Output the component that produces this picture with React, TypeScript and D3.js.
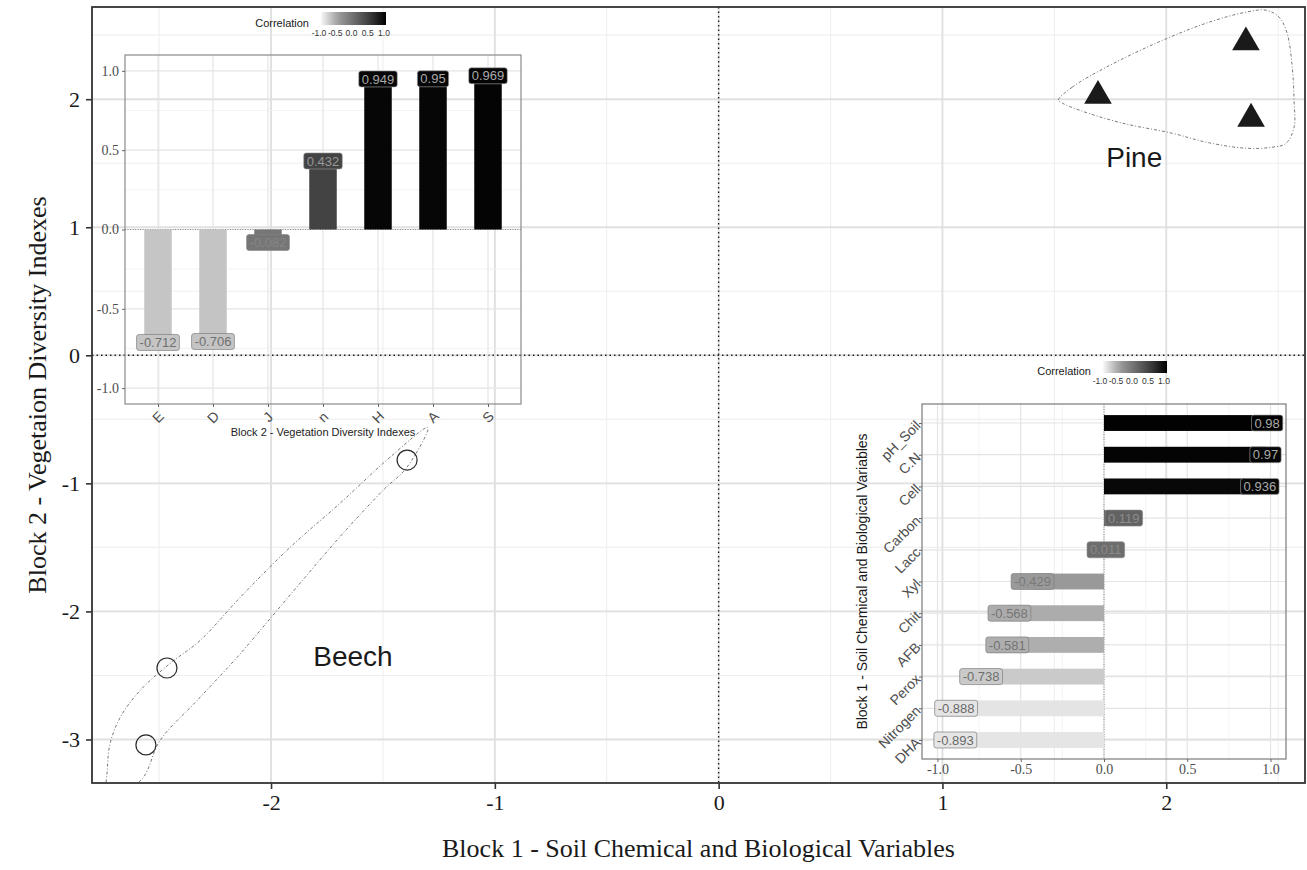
import React, { useEffect, useRef } from 'react';
import * as d3 from 'd3';

const W = 1307;
const H = 870;

// sample scores on the first pair of components
const beechX = [-1.392, -2.465, -2.559];
const beechY = [-0.818, -2.442, -3.043];
const pineX = [2.356, 1.695, 2.379];
const pineY = [2.444, 2.026, 1.847];

// outlines of the group ellipses
const beechHull: [number, number][] = [
  [-1.299, -0.563], [-1.469, -0.797], [-1.692, -1.156], [-1.915, -1.5], [-2.138, -1.891],
  [-2.317, -2.227], [-2.451, -2.406], [-2.585, -2.617], [-2.674, -2.828], [-2.719, -3.031],
  [-2.732, -3.242], [-2.737, -3.477], [-2.71, -3.55], [-2.692, -3.477], [-2.571, -3.297],
  [-2.496, -3.008], [-2.33, -2.695], [-2.152, -2.359], [-1.973, -1.992], [-1.795, -1.625],
  [-1.679, -1.391], [-1.5, -1.055], [-1.393, -0.875],
];
const pineHull: [number, number][] = [
  [1.518, 1.992], [1.58, 2.094], [1.732, 2.25], [1.955, 2.438], [2.179, 2.594],
  [2.357, 2.68], [2.446, 2.695], [2.504, 2.641], [2.54, 2.516], [2.563, 2.25],
  [2.571, 1.992], [2.571, 1.781], [2.536, 1.656], [2.473, 1.625], [2.357, 1.617],
  [2.179, 1.664], [2.027, 1.734], [1.804, 1.813], [1.612, 1.914], [1.536, 1.969],
];

const groupNames = ['Pine', 'Beech'];
const groupLabelX = [1.857, -1.634];
const groupLabelY = [1.547, -2.344];

const mainXTicks = [-2, -1, 0, 1, 2];
const mainYTicks = [-3, -2, -1, 0, 1, 2];

// correlations with the components
const block2Vars = ['E', 'D', 'J', 'n', 'H', 'A', 'S'];
const block2Cor = [-0.712, -0.706, -0.082, 0.432, 0.949, 0.95, 0.969];

const block1Vars = ['pH_Soil', 'C.N', 'Cell', 'Carbon', 'Lacc', 'Xyl', 'Chit', 'AFB', 'Perox', 'Nitrogen', 'DHA'];
const block1Cor = [0.98, 0.97, 0.936, 0.119, 0.011, -0.429, -0.568, -0.581, -0.738, -0.888, -0.893];

const corTicks = [-1, -0.5, 0, 0.5, 1];
const corMinor = [-0.75, -0.25, 0.25, 0.75];

const SANS = '"Liberation Sans", Arial, sans-serif';
const SERIF = '"Liberation Serif", "Times New Roman", serif';

const fillScale = d3.scaleLinear<string>()
  .domain([-1, -0.5, 0, 0.5, 1])
  .range(['#f8f8f8', '#a0a0a0', '#6e6e6e', '#3c3c3c', '#000000'])
  .clamp(true);
const textScale = d3.scaleLinear<string>().domain([-1, 1]).range(['#666666', '#aaaaaa']);

const fmt1 = (d: any) => (+d).toFixed(1);

const App = () => {
  const ref = useRef<SVGSVGElement>(null);

  useEffect(() => {
    const svg = d3.select(ref.current);
    svg.selectAll('*').remove();

    svg.append('rect').attr('width', W).attr('height', H).attr('fill', '#fff');

    const m = { left: 92, right: 1305, top: 7, bottom: 783 };
    const x = d3.scaleLinear().domain([-2.8, 2.62]).range([m.left, m.right]);
    const y = d3.scaleLinear().domain([-3.34, 2.72]).range([m.bottom, m.top]);

    const defs = svg.append('defs');
    defs.append('clipPath').attr('id', 'panel')
      .append('rect')
      .attr('x', m.left).attr('y', m.top)
      .attr('width', m.right - m.left).attr('height', m.bottom - m.top);

    const grad = defs.append('linearGradient').attr('id', 'corgrad');
    d3.range(0, 1.01, 0.1).forEach(t => {
      grad.append('stop').attr('offset', t).attr('stop-color', fillScale(-1 + 2 * t));
    });

    // main grid
    const grid = svg.append('g');
    const xMinor = [-2.5, -1.5, -0.5, 0.5, 1.5, 2.5];
    const yMinor = [-2.5, -1.5, -0.5, 0.5, 1.5, 2.5];
    grid.selectAll('.xmin').data(xMinor).enter().append('line')
      .attr('x1', d => x(d)).attr('x2', d => x(d)).attr('y1', m.top).attr('y2', m.bottom)
      .attr('stroke', '#efefef').attr('stroke-width', 1.1);
    grid.selectAll('.ymin').data(yMinor).enter().append('line')
      .attr('y1', d => y(d)).attr('y2', d => y(d)).attr('x1', m.left).attr('x2', m.right)
      .attr('stroke', '#efefef').attr('stroke-width', 1.1);
    grid.selectAll('.xmaj').data(mainXTicks).enter().append('line')
      .attr('x1', d => x(d)).attr('x2', d => x(d)).attr('y1', m.top).attr('y2', m.bottom)
      .attr('stroke', '#e0e0e0').attr('stroke-width', 1.9);
    grid.selectAll('.ymaj').data(mainYTicks).enter().append('line')
      .attr('y1', d => y(d)).attr('y2', d => y(d)).attr('x1', m.left).attr('x2', m.right)
      .attr('stroke', '#e0e0e0').attr('stroke-width', 1.9);

    // zero reference lines
    svg.append('line')
      .attr('x1', x(0)).attr('x2', x(0)).attr('y1', m.top).attr('y2', m.bottom)
      .attr('stroke', '#222').attr('stroke-width', 1.4).attr('stroke-dasharray', '1.5,3');
    svg.append('line')
      .attr('y1', y(0)).attr('y2', y(0)).attr('x1', m.left).attr('x2', m.right)
      .attr('stroke', '#222').attr('stroke-width', 1.4).attr('stroke-dasharray', '1.5,3');

    // ellipses
    const hullLine = d3.line<[number, number]>()
      .x(d => x(d[0])).y(d => y(d[1]))
      .curve(d3.curveCatmullRomClosed.alpha(0.5));
    const hulls = svg.append('g').attr('clip-path', 'url(#panel)');
    [beechHull, pineHull].forEach(h => {
      hulls.append('path').attr('d', hullLine(h))
        .attr('fill', 'none').attr('stroke', '#7a7a7a').attr('stroke-width', 1)
        .attr('stroke-dasharray', '3,2,1,2');
    });

    // points
    svg.append('g').selectAll('circle').data(beechX).enter().append('circle')
      .attr('cx', d => x(d)).attr('cy', (d, i) => y(beechY[i])).attr('r', 10)
      .attr('fill', 'none').attr('stroke', '#2a2a2a').attr('stroke-width', 1.2);
    const tri = d3.symbol().type(d3.symbolTriangle).size(330);
    svg.append('g').selectAll('path').data(pineX).enter().append('path')
      .attr('d', tri())
      .attr('transform', (d, i) => `translate(${x(d)},${y(pineY[i])})`)
      .attr('fill', '#1a1a1a');

    svg.append('g').selectAll('text').data(groupNames).enter().append('text')
      .attr('x', (d, i) => x(groupLabelX[i])).attr('y', (d, i) => y(groupLabelY[i]))
      .attr('dy', '0.36em').attr('text-anchor', 'middle')
      .attr('font-family', SANS).attr('font-size', 28).attr('fill', '#1a1a1a')
      .text(d => d);

    // main axes
    const xAxis = svg.append('g').attr('transform', `translate(0,${m.bottom})`)
      .call(d3.axisBottom(x).tickValues(mainXTicks).tickSize(6).tickPadding(5).tickFormat(d => String(d)));
    const yAxis = svg.append('g').attr('transform', `translate(${m.left},0)`)
      .call(d3.axisLeft(y).tickValues(mainYTicks).tickSize(6).tickPadding(6).tickFormat(d => String(d)));
    [xAxis, yAxis].forEach(a => {
      a.select('.domain').remove();
      a.selectAll('line').attr('stroke', '#333').attr('stroke-width', 1.6);
      a.selectAll('text').attr('font-family', SERIF).attr('font-size', 22).attr('fill', '#1a1a1a');
    });

    svg.append('text')
      .attr('x', (m.left + m.right) / 2).attr('y', 857)
      .attr('text-anchor', 'middle').attr('font-family', SERIF).attr('font-size', 26).attr('fill', '#1a1a1a')
      .text('Block 1 - Soil Chemical and Biological Variables');
    svg.append('text')
      .attr('transform', `translate(46,${(m.top + m.bottom) / 2}) rotate(-90)`)
      .attr('text-anchor', 'middle').attr('font-family', SERIF).attr('font-size', 26).attr('fill', '#1a1a1a')
      .text('Block 2 - Vegetaion Diversity Indexes');

    // helpers for the insets
    const addLabel = (g: any, cx: number, cy: number, v: number, fs: number) => {
      const lg = g.append('g');
      const r = lg.append('rect');
      const t = lg.append('text')
        .attr('x', cx).attr('y', cy).attr('dy', '0.36em').attr('text-anchor', 'middle')
        .attr('font-family', SANS).attr('font-size', fs).attr('fill', textScale(v))
        .text(String(v));
      const bb = (t.node() as SVGTextElement).getBBox();
      r.attr('x', bb.x - 3).attr('y', cy - 8).attr('width', bb.width + 6).attr('height', 16)
        .attr('rx', 2.5).attr('fill', fillScale(v)).attr('stroke', textScale(v)).attr('stroke-width', 0.6);
    };

    const addLegend = (x0: number, y0: number, w: number, h: number, lx: [number, number]) => {
      const lg = svg.append('g');
      lg.append('text').attr('x', x0 - 12).attr('y', y0 + h + 2)
        .attr('text-anchor', 'end').attr('font-family', SANS).attr('font-size', 11).attr('fill', '#1a1a1a')
        .text('Correlation');
      lg.append('rect').attr('x', x0).attr('y', y0).attr('width', w).attr('height', h).attr('fill', 'url(#corgrad)');
      const ls = d3.scaleLinear().domain([-1, 1]).range(lx);
      lg.selectAll('.lt').data(corTicks).enter().append('text')
        .attr('x', d => ls(d)).attr('y', y0 + h + 11).attr('text-anchor', 'middle')
        .attr('font-family', SANS).attr('font-size', 8.5).attr('fill', '#333')
        .text(d => fmt1(d));
    };

    const styleAxis = (ax: any, fs: number) => {
      ax.select('.domain').remove();
      ax.selectAll('line').attr('stroke', '#666');
      ax.selectAll('text').attr('font-family', SERIF).attr('font-size', fs).attr('fill', '#4d4d4d');
    };

    // ---- inset 1: vegetation diversity correlations
    const a = { left: 125, right: 521, top: 55, bottom: 404 };
    const ax = d3.scalePoint().domain(block2Vars).range([a.left, a.right]).padding(0.6);
    const ay = d3.scaleLinear().domain([-1.1, 1.1]).range([a.bottom, a.top]);
    const g1 = svg.append('g');
    g1.selectAll('.hmin').data(corMinor).enter().append('line')
      .attr('x1', a.left).attr('x2', a.right).attr('y1', d => ay(d)).attr('y2', d => ay(d))
      .attr('stroke', '#f0f0f0').attr('stroke-width', 0.8);
    g1.selectAll('.hmaj').data(corTicks).enter().append('line')
      .attr('x1', a.left).attr('x2', a.right).attr('y1', d => ay(d)).attr('y2', d => ay(d))
      .attr('stroke', '#e4e4e4').attr('stroke-width', 1.2);
    g1.selectAll('.vmaj').data(block2Vars).enter().append('line')
      .attr('x1', d => ax(d)!).attr('x2', d => ax(d)!).attr('y1', a.top).attr('y2', a.bottom)
      .attr('stroke', '#e4e4e4').attr('stroke-width', 1.2);
    g1.append('line').attr('x1', a.left).attr('x2', a.right).attr('y1', ay(0)).attr('y2', ay(0))
      .attr('stroke', '#888').attr('stroke-width', 1).attr('stroke-dasharray', '1,1.5');
    const bw1 = ax.step() * 0.5;
    g1.selectAll('.bar').data(block2Cor).enter().append('rect')
      .attr('x', (d, i) => ax(block2Vars[i])! - bw1 / 2)
      .attr('y', d => ay(Math.max(0, d)))
      .attr('width', bw1)
      .attr('height', d => Math.abs(ay(d) - ay(0)))
      .attr('fill', d => fillScale(d));
    block2Cor.forEach((v, i) => addLabel(g1, ax(block2Vars[i])!, ay(v), v, 13));
    g1.append('rect').attr('x', a.left).attr('y', a.top).attr('width', a.right - a.left).attr('height', a.bottom - a.top)
      .attr('fill', 'none').attr('stroke', '#8a8a8a').attr('stroke-width', 1.2);
    const a1y = g1.append('g').attr('transform', `translate(${a.left},0)`)
      .call(d3.axisLeft(ay).tickValues(corTicks).tickSize(3).tickPadding(3).tickFormat(fmt1));
    styleAxis(a1y, 14);
    const a1x = g1.append('g').attr('transform', `translate(0,${a.bottom})`)
      .call(d3.axisBottom(ax).tickSize(3).tickFormat(() => ''));
    styleAxis(a1x, 14);
    g1.selectAll('.xl').data(block2Vars).enter().append('text')
      .attr('transform', d => `translate(${ax(d)},${a.bottom + 13}) rotate(-45)`)
      .attr('dy', '0.36em').attr('text-anchor', 'middle')
      .attr('font-family', SANS).attr('font-size', 14).attr('fill', '#4d4d4d')
      .text(d => d);
    g1.append('text').attr('x', (a.left + a.right) / 2).attr('y', a.bottom + 32)
      .attr('text-anchor', 'middle').attr('font-family', SANS).attr('font-size', 11).attr('fill', '#222')
      .text('Block 2 - Vegetation Diversity Indexes');
    addLegend(321, 12, 65, 13, [319, 384]);

    // ---- inset 2: soil variable correlations
    const b = { left: 922, right: 1286, top: 404, bottom: 759 };
    const bx = d3.scaleLinear().domain([-1.093, 1.093]).range([b.left, b.right]);
    const by = d3.scalePoint().domain(block1Vars).range([b.top, b.bottom]).padding(0.6);
    const g2 = svg.append('g');
    g2.selectAll('.vmin').data(corMinor).enter().append('line')
      .attr('y1', b.top).attr('y2', b.bottom).attr('x1', d => bx(d)).attr('x2', d => bx(d))
      .attr('stroke', '#f0f0f0').attr('stroke-width', 0.8);
    g2.selectAll('.vmaj').data(corTicks).enter().append('line')
      .attr('y1', b.top).attr('y2', b.bottom).attr('x1', d => bx(d)).attr('x2', d => bx(d))
      .attr('stroke', '#e4e4e4').attr('stroke-width', 1.2);
    g2.selectAll('.hmaj').data(block1Vars).enter().append('line')
      .attr('x1', b.left).attr('x2', b.right).attr('y1', d => by(d)!).attr('y2', d => by(d)!)
      .attr('stroke', '#e4e4e4').attr('stroke-width', 1.2);
    g2.append('line').attr('y1', b.top).attr('y2', b.bottom).attr('x1', bx(0)).attr('x2', bx(0))
      .attr('stroke', '#888').attr('stroke-width', 1).attr('stroke-dasharray', '1,1.5');
    const bh2 = by.step() * 0.5;
    g2.selectAll('.bar').data(block1Cor).enter().append('rect')
      .attr('y', (d, i) => by(block1Vars[i])! - bh2 / 2)
      .attr('x', d => bx(Math.min(0, d)))
      .attr('height', bh2)
      .attr('width', d => Math.abs(bx(d) - bx(0)))
      .attr('fill', d => fillScale(d));
    block1Cor.forEach((v, i) => addLabel(g2, bx(v), by(block1Vars[i])!, v, 13));
    g2.append('rect').attr('x', b.left).attr('y', b.top).attr('width', b.right - b.left).attr('height', b.bottom - b.top)
      .attr('fill', 'none').attr('stroke', '#7a7a7a').attr('stroke-width', 1.2);
    const b2x = g2.append('g').attr('transform', `translate(0,${b.bottom})`)
      .call(d3.axisBottom(bx).tickValues(corTicks).tickSize(3).tickPadding(2).tickFormat(fmt1));
    styleAxis(b2x, 14);
    const b2y = g2.append('g').attr('transform', `translate(${b.left},0)`)
      .call(d3.axisLeft(by).tickSize(3).tickFormat(() => ''));
    styleAxis(b2y, 14);
    g2.selectAll('.yl').data(block1Vars).enter().append('text')
      .attr('transform', d => `translate(${b.left - 4},${by(d)}) rotate(-45)`)
      .attr('dy', '0.36em').attr('text-anchor', 'end')
      .attr('font-family', SANS).attr('font-size', 14).attr('fill', '#4d4d4d')
      .text(d => d);
    g2.append('text')
      .attr('transform', `translate(867,${(b.top + b.bottom) / 2}) rotate(-90)`)
      .attr('text-anchor', 'middle').attr('font-family', SANS).attr('font-size', 14).attr('fill', '#1a1a1a')
      .text('Block 1 - Soil Chemical and Biological Variables');
    addLegend(1103, 361, 64, 12, [1100, 1164]);

    // main panel border on top
    svg.append('rect')
      .attr('x', m.left).attr('y', m.top).attr('width', m.right - m.left).attr('height', m.bottom - m.top)
      .attr('fill', 'none').attr('stroke', '#333').attr('stroke-width', 1.8);
  }, []);

  return <svg ref={ref} width={W} height={H} style={{ position: 'absolute', left: 0, top: 0 }} />;
};

export default App;
